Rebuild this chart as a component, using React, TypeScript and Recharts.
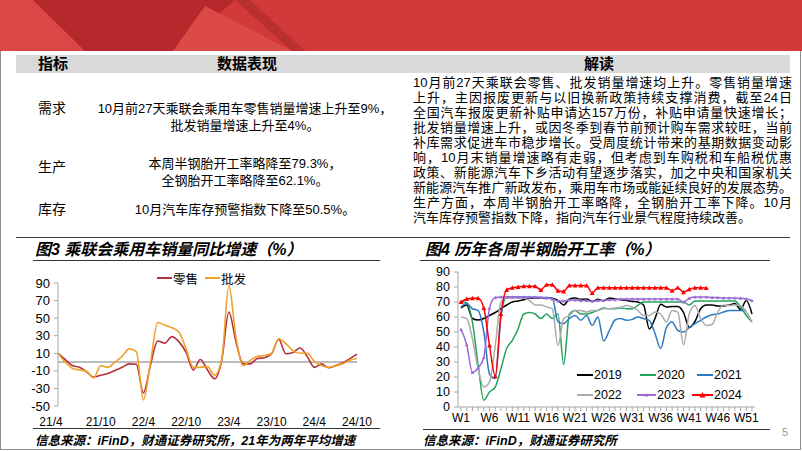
import React from 'react'
import { LineChart, Line, XAxis, YAxis, ReferenceLine } from 'recharts'

// 图3 乘联会乘用车销量同比增速（%）
const months = [
  '21/4', '21/5', '21/6', '21/7', '21/8', '21/9', '21/10', '21/11', '21/12',
  '22/1', '22/2', '22/3', '22/4', '22/5', '22/6', '22/7', '22/8', '22/9', '22/10', '22/11', '22/12',
  '23/1', '23/2', '23/3', '23/4', '23/5', '23/6', '23/7', '23/8', '23/9', '23/10', '23/11', '23/12',
  '24/1', '24/2', '24/3', '24/4', '24/5', '24/6', '24/7', '24/8', '24/9', '24/10',
]
const retail = [
  10, 3, -4, -6, -11, -17, -15, -13, -9.5,
  -6, -2, -2.5, -35, -3, 24, 21.5, 29, 23, 11, -9, 3,
  -9, -19, 2, 57, 23, -2, -2, 4, 5, 9.5, 26, 9.5,
  11, 16, 6.5, -6, -2, -6.5, -4, -1, 4, 9,
]
const wholesale = [
  10, 0, -7, -9, -10.5, -18, -4, -6, 0,
  6.5, 15, 12, -43, 0, 45, 42, 39, 34, 15, -6, -6,
  -5, -15, 3, 87, 28, -4, 2, 6.5, 7.5, 10, 26.5, 21,
  13, 10, 10, 1, -4, -6, -4.5, -2, 2, 4,
]
const salesTicks = [-50, -30, -10, 10, 30, 50, 70, 90]

// 图4 历年各周半钢胎开工率（%）
const weeks = [
  'W1', 'W2', 'W3', 'W4', 'W5', 'W6', 'W7', 'W8', 'W9', 'W10', 'W11', 'W12', 'W13',
  'W14', 'W15', 'W16', 'W17', 'W18', 'W19', 'W20', 'W21', 'W22', 'W23', 'W24', 'W25', 'W26',
  'W27', 'W28', 'W29', 'W30', 'W31', 'W32', 'W33', 'W34', 'W35', 'W36', 'W37', 'W38', 'W39',
  'W40', 'W41', 'W42', 'W43', 'W44', 'W45', 'W46', 'W47', 'W48', 'W49', 'W50', 'W51', 'W52',
]
const weekLabels = ['W1', 'W6', 'W11', 'W16', 'W21', 'W26', 'W31', 'W36', 'W41', 'W46', 'W51']
const y2019 = [
  66, 68, 59, 58, 59, 61, 63, 65.5, 68, 70, 70.7, 71.5, 72.5,
  72.7, 72.7, 72.7, 72.5, 71, 68, 72, 72.7, 71.8, 72, 70.4, 71.8, 70.7,
  72.7, 72, 71.5, 71, 70.4, 70, 68, 52, 59, 68.5, 66.7, 67, 67,
  63, 53, 57, 65.5, 68, 68, 67.3, 67.3, 68, 69, 65, 71, 62,
]
const y2020 = [
  70, 69.5, 56.7, 28, 4.5, 10, 13.3, 25.5, 39, 44.4, 52, 62, 63,
  62, 59, 62, 59, 62, 28.4, 62, 64.4, 62, 62, 63, 64.4, 66,
  65.5, 65.5, 66, 65.5, 65.5, 67.8, 70, 70, 70, 70, 70, 70, 70,
  70, 68, 70.7, 70.7, 70.7, 70.7, 70.7, 70.7, 70.7, 70.7, 66.7, 61, 56.7,
]
const y2021 = [
  66.7, 69, 65.5, 64.4, 50, 22, 19, 60, 73.5, 73.3, 73.3, 73.3, 73,
  73, 73, 73, 72.7, 56.7, 55.6, 59, 61, 57.8, 61, 54.4, 60, 44,
  51, 58, 59, 57.8, 58.4, 60, 59, 57.8, 49, 39, 53, 56.7, 51,
  50, 53, 55.6, 57.8, 60, 61.5, 62, 63.3, 64.4, 64.4, 64.4, 64.4, null,
]
const y2022 = [
  60, 59, 45.5, 25.5, 13.3, 16.7, 41, 70, 72.7, 72.7, 72.7, 72.7, 71,
  68, 68, 66.7, 65.5, 41, 59, 61, 64.4, 64.4, 63.3, 64.4, 64.4, 65.5,
  65.5, 66, 66.5, 67.7, 66.7, 64.4, 61, 61, 63.3, 62, 56.7, 64.4, 63.3,
  41.5, 62, 67.7, 59, 54.4, 55, 63.3, 68, 67.7, 68, 67.7, 63.3, 56.7,
]
const y2023 = [
  51.8, 41.5, 23, 26, 33, 66, 73, 73.3, 73.3, 73.3, 73.3, 73.3, 73.3,
  73.3, 73, 72.7, 72, 70.7, 70.7, 71.3, 71.3, 71, 71, 70.4, 71, 71,
  71.5, 71.5, 72, 72, 72, 72, 72, 72, 72, 72, 72, 72, 72,
  70, 72.5, 73.3, 73.3, 73.3, 73, 73, 72.7, 72.7, 72.7, 72.5, 72, 71,
]
const y2024 = [
  70, 72, 72.5, 72.5, 66, 41, 20.5, 62, 78, 79.5, 80, 80.5, 80.5,
  80.5, 78, 81.5, 81.5, 77.5, 77, 81, 81, 81, 81, 76, 79.5, 79.5,
  79.5, 79.5, 79.5, 79.5, 79.5, 79.5, 79.5, 79.5, 79.5, 79.5, 79.5, 77.5, 79.5,
  76.5, 78.5, 79.5, 79.5, 79.3, null, null, null, null, null, null, null, null,
]
const tireTicks = [0, 10, 20, 30, 40, 50, 60, 70, 80, 90]

const salesData = months.map((m, i) => ({ month: m, retail: retail[i], wholesale: wholesale[i] }))
const tireData = weeks.map((w, i) => ({
  week: w,
  y2019: y2019[i],
  y2020: y2020[i],
  y2021: y2021[i],
  y2022: y2022[i],
  y2023: y2023[i],
  y2024: y2024[i],
}))

const FONT = "'Liberation Sans', 'Noto Sans CJK SC', sans-serif"

const interpretLines = [
  '10月前27天乘联会零售、批发销量增速均上升。零售销量增速',
  '上升，主因报废更新与以旧换新政策持续支撑消费，截至24日',
  '全国汽车报废更新补贴申请达157万份，补贴申请量快速增长；',
  '批发销量增速上升，或因冬季到春节前预计购车需求较旺，当前',
  '补库需求促进车市稳步增长。受周度统计带来的基期数据变动影',
  '响，10月末销量增速略有走弱，但考虑到车购税和车船税优惠',
  '政策、新能源汽车下乡活动有望逐步落实，加之中央和国家机关',
  '新能源汽车推广新政发布，乘用车市场或能延续良好的发展态势。',
  '生产方面，本周半钢胎开工率略降，全钢胎开工率下降。10月',
  '汽车库存预警指数下降，指向汽车行业景气程度持续改善。',
]

const triangleDot = (color: string, r: number) => (props: any) => {
  const { cx, cy, index } = props
  if (cx == null || cy == null) return <g key={`${color}-${index}`} />
  return (
    <path
      key={`${color}-${index}`}
      d={`M${cx},${cy - r}L${cx + r},${cy + r * 0.8}L${cx - r},${cy + r * 0.8}Z`}
      fill={color}
    />
  )
}

const MonthTick = ({ x, y, payload, index }: any) => (
  <text x={index === 0 ? x - 7 : x} y={y + 3} dy="0.71em" textAnchor="middle" fontSize={12} fill="#000">
    {payload.value}
  </text>
)

const WeekTick = ({ x, y, payload }: any) =>
  weekLabels.includes(payload.value) ? (
    <text x={x} y={y} dy="0.71em" textAnchor="middle" fontSize={12} fill="#000">
      {payload.value}
    </text>
  ) : (
    <g />
  )

const abs = (left: number, top: number, extra: React.CSSProperties = {}): React.CSSProperties => ({
  position: 'absolute',
  left,
  top,
  ...extra,
})

const LegendItem = ({ left, top, color, label, marker, lineW = 16 }: any) => (
  <div style={abs(left, top - 8, { display: 'flex', alignItems: 'center', height: 16, fontSize: 12.5, color: '#000' })}>
    <svg width={lineW} height={10} style={{ marginRight: 1 }}>
      <line x1={0} x2={lineW} y1={5} y2={5} stroke={color} strokeWidth={2} />
      {marker && <path d={`M${lineW / 2},${5 - marker}L${lineW / 2 + marker},${5 + marker * 0.8}L${lineW / 2 - marker},${5 + marker * 0.8}Z`} fill={color} />}
    </svg>
    <span>{label}</span>
  </div>
)

export default function App() {
  return (
    <div style={{ position: 'absolute', left: 0, top: 0, width: 802, height: 451, background: '#fff', fontFamily: FONT, overflow: 'hidden' }}>
      {/* banner */}
      <svg width={802} height={51} style={abs(0, 0)}>
        <rect x={0} y={0} width={802} height={51} fill="#D2393A" />
        <polygon points="0,0 33,0 85,51 0,51" fill="#DA4746" />
        <polygon points="33,0 235,0 173,51 85,51" fill="#B5292C" />
        <polygon points="205,6 173,51 292,51" fill="#DC4A48" />
        <polygon points="235,0 250,0 305,51 292,51" fill="#B8302F" />
      </svg>
      {/* frame */}
      <div style={abs(0, 51, { width: 799, height: 398, borderLeft: '1.5px solid #8C8C8C', borderRight: '1.5px solid #8C8C8C', borderBottom: '1.5px solid #8C8C8C' })} />

      {/* table header */}
      <div style={abs(16, 55, { width: 774, height: 18, background: '#D9D9D9' })} />
      <div style={abs(38, 55, { fontSize: 15, fontWeight: 700, lineHeight: '18px' })}>指标</div>
      <div style={abs(217, 55, { fontSize: 15, fontWeight: 700, lineHeight: '18px' })}>数据表现</div>
      <div style={abs(584, 55, { fontSize: 15, fontWeight: 700, lineHeight: '18px' })}>解读</div>

      {/* left table rows */}
      <div style={abs(38, 100, { fontSize: 14, lineHeight: '17px' })}>需求</div>
      <div style={abs(38, 159, { fontSize: 14, lineHeight: '17px' })}>生产</div>
      <div style={abs(38, 201, { fontSize: 14, lineHeight: '17px' })}>库存</div>
      <div style={abs(90, 100, { width: 310, textAlign: 'center', fontSize: 13, lineHeight: '17px' })}>
        <div>10月前27天乘联会乘用车零售销量增速上升至9%，</div>
        <div>批发销量增速上升至4%。</div>
      </div>
      <div style={abs(90, 155, { width: 310, textAlign: 'center', fontSize: 13, lineHeight: '17px' })}>
        <div>本周半钢胎开工率略降至79.3%，</div>
        <div>全钢胎开工率略降至62.1%。</div>
      </div>
      <div style={abs(90, 201, { width: 310, textAlign: 'center', fontSize: 13, lineHeight: '17px' })}>
        <div>10月汽车库存预警指数下降至50.5%。</div>
      </div>

      {/* right interpretation */}
      <div style={abs(413, 75, { width: 379, fontSize: 13, lineHeight: '15px' })}>
        {interpretLines.map((l, i) => (
          <div
            key={i}
            style={{ textAlign: 'justify', textAlignLast: i === interpretLines.length - 1 ? 'left' : 'justify' }}
          >
            {l}
          </div>
        ))}
      </div>
      <div style={abs(16, 237, { width: 774, height: 1, background: '#404040' })} />

      {/* chart 3 */}
      <div style={abs(35, 240, { fontSize: 16, fontWeight: 700, fontStyle: 'italic', lineHeight: '20px' })}>
        图3 乘联会乘用车销量同比增速（%）
      </div>
      <div style={abs(33, 260, { width: 347, height: 1, background: '#333' })} />
      <div style={abs(0, 270)}>
        <LineChart width={400} height={160} data={salesData} margin={{ top: 13, right: 43, bottom: 0, left: 0 }}>
          <XAxis dataKey="month" interval={5} axisLine={false} tickLine={false} height={24} tick={<MonthTick />} />
          <YAxis
            domain={[-50, 90]}
            ticks={salesTicks}
            interval={0}
            width={58}
            axisLine={{ stroke: '#A6A6A6' }}
            tickLine={{ stroke: '#A6A6A6' }}
            tickSize={4}
            tickMargin={4}
            tick={{ fontSize: 13, fill: '#000' }}
          />
          <ReferenceLine y={0} stroke="#A6A6A6" strokeWidth={1.5} />
          <Line type="monotone" dataKey="retail" stroke="#B3303C" strokeWidth={1.6} dot={false} isAnimationActive={false} />
          <Line type="monotone" dataKey="wholesale" stroke="#EFA128" strokeWidth={1.6} dot={false} isAnimationActive={false} />
        </LineChart>
      </div>
      <LegendItem left={157} top={278} color="#B3303C" label="零售" lineW={15} />
      <LegendItem left={205} top={278} color="#EFA128" label="批发" lineW={15} />
      <div style={abs(33, 428, { width: 347, height: 1, background: '#333' })} />
      <div style={abs(35, 433, { fontSize: 12.5, fontWeight: 700, fontStyle: 'italic', lineHeight: '16px' })}>
        信息来源：iFinD，财通证券研究所，21年为两年平均增速
      </div>

      {/* chart 4 */}
      <div style={abs(425, 240, { fontSize: 16, fontWeight: 700, fontStyle: 'italic', lineHeight: '20px' })}>
        图4 历年各周半钢胎开工率（%）
      </div>
      <div style={abs(420, 260, { width: 350, height: 1, background: '#333' })} />
      <div style={abs(400, 262)}>
        <LineChart width={400} height={170} data={tireData} margin={{ top: 10, right: 45, bottom: 0, left: 0 }}>
          <XAxis
            dataKey="week"
            interval={0}
            padding={{ left: 3, right: 3 }}
            axisLine={{ stroke: '#A6A6A6' }}
            tickLine={{ stroke: '#A6A6A6' }}
            tickSize={4}
            height={25}
            tick={<WeekTick />}
          />
          <YAxis
            domain={[0, 90]}
            ticks={tireTicks}
            interval={0}
            width={58}
            axisLine={{ stroke: '#A6A6A6' }}
            tickLine={{ stroke: '#A6A6A6' }}
            tickSize={4}
            tickMargin={4}
            tick={{ fontSize: 12.5, fill: '#000' }}
          />
          <Line type="monotone" dataKey="y2019" stroke="#000000" strokeWidth={1.5} dot={false} isAnimationActive={false} />
          <Line type="monotone" dataKey="y2020" stroke="#23A35A" strokeWidth={1.5} dot={false} isAnimationActive={false} />
          <Line type="monotone" dataKey="y2021" stroke="#2B78C2" strokeWidth={1.5} dot={false} isAnimationActive={false} />
          <Line type="monotone" dataKey="y2022" stroke="#ABABAB" strokeWidth={1.5} dot={false} isAnimationActive={false} />
          <Line type="monotone" dataKey="y2023" stroke="#9B6AD8" strokeWidth={1.5} dot={triangleDot('#9B6AD8', 1.8)} isAnimationActive={false} />
          <Line type="monotone" dataKey="y2024" stroke="#FF0000" strokeWidth={1.5} dot={triangleDot('#FF0000', 2.4)} isAnimationActive={false} />
        </LineChart>
      </div>
      <LegendItem left={577} top={375} color="#000000" label="2019" />
      <LegendItem left={640} top={375} color="#23A35A" label="2020" />
      <LegendItem left={697} top={375} color="#2B78C2" label="2021" />
      <LegendItem left={577} top={395} color="#ABABAB" label="2022" />
      <LegendItem left={637} top={395} color="#9B6AD8" label="2023" marker={2} lineW={19} />
      <LegendItem left={692} top={395} color="#FF0000" label="2024" marker={3} lineW={21} />
      <div style={abs(423, 429, { width: 347, height: 1, background: '#333' })} />
      <div style={abs(423, 433, { fontSize: 12.5, fontWeight: 700, fontStyle: 'italic', lineHeight: '16px' })}>
        信息来源：iFinD，财通证券研究所
      </div>
      <div style={abs(782, 426, { fontSize: 11, color: '#999' })}>5</div>
    </div>
  )
}
